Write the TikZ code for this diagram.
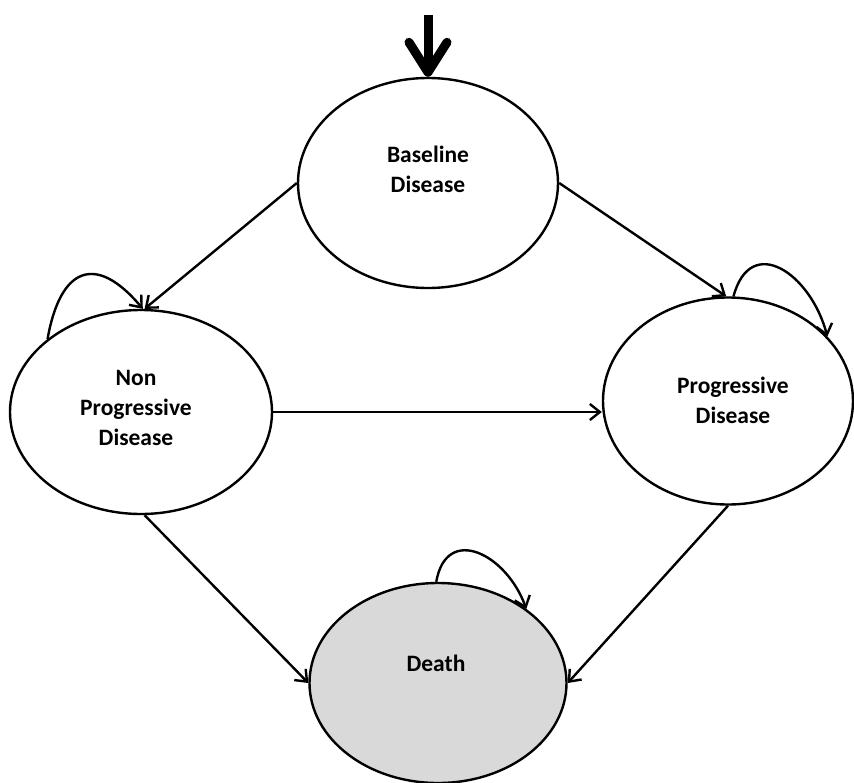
\documentclass[tikz,border=0pt]{standalone}
\usepackage{fontspec}
\setmainfont{Carlito}
\usepackage{tikz}
\usetikzlibrary{shapes.geometric}
\usetikzlibrary{arrows.meta}

\tikzset{
  stateshape/.style={draw, ellipse, line width=2.4pt, inner sep=0pt},
  statetext/.style={font=\bfseries\fontsize{23.5}{30}\selectfont, align=center},
  trans/.style={line width=2.4pt, -{Straight Barb[length=10pt,width=16pt]}},
  entry/.style={line width=9pt, -{Straight Barb[round,length=30pt,width=38pt]}},
}

\begin{document}
\begin{tikzpicture}[x=1pt, y=1pt]
  \useasboundingbox (0,0) rectangle (854,-782);

  % Define nodes
  \node[stateshape, minimum width=260pt, minimum height=210pt] (base) at (428,-183) {};
  \node[stateshape, minimum width=262pt, minimum height=204pt] (nonprog) at (141,-412) {};
  \node[stateshape, minimum width=250pt, minimum height=207pt] (prog) at (728,-401) {};
  \node[stateshape, fill=black!15, minimum width=257pt, minimum height=200pt] (death) at (438,-683) {};

  \node[statetext] (base_txt) at (428,-169) {Baseline\\Disease};
  \node[statetext] (nonprog_txt) at (136,-408) {Non\\Progressive\\Disease};
  \node[statetext] (prog_txt) at (733,-400) {Progressive\\Disease};
  \node[statetext] (death_txt) at (436,-663) {Death};

  \coordinate (entry_top) at (428,-15);

  % Connect nodes
  \draw[entry] (entry_top) -- (base.north);
  \draw[trans] (base.west) -- (nonprog.88);
  \draw[trans] (base.east) -- (prog.91);
  \draw[trans] (nonprog.east) -- (nonprog.east -| prog.west);
  \draw[trans] (nonprog.272) -- (death.west);
  \draw[trans] (prog.south) -- (death.east);

  % Self loops
  \draw[trans] (nonprog.142) to[out=80, in=130, looseness=1.87] (nonprog.89);
  \draw[trans] (prog.87) to[out=75, in=105, looseness=1.65] (prog.33);
  \draw[trans] (death.91) to[out=80, in=110, looseness=1.6] (death.40);

\end{tikzpicture}
\end{document}
